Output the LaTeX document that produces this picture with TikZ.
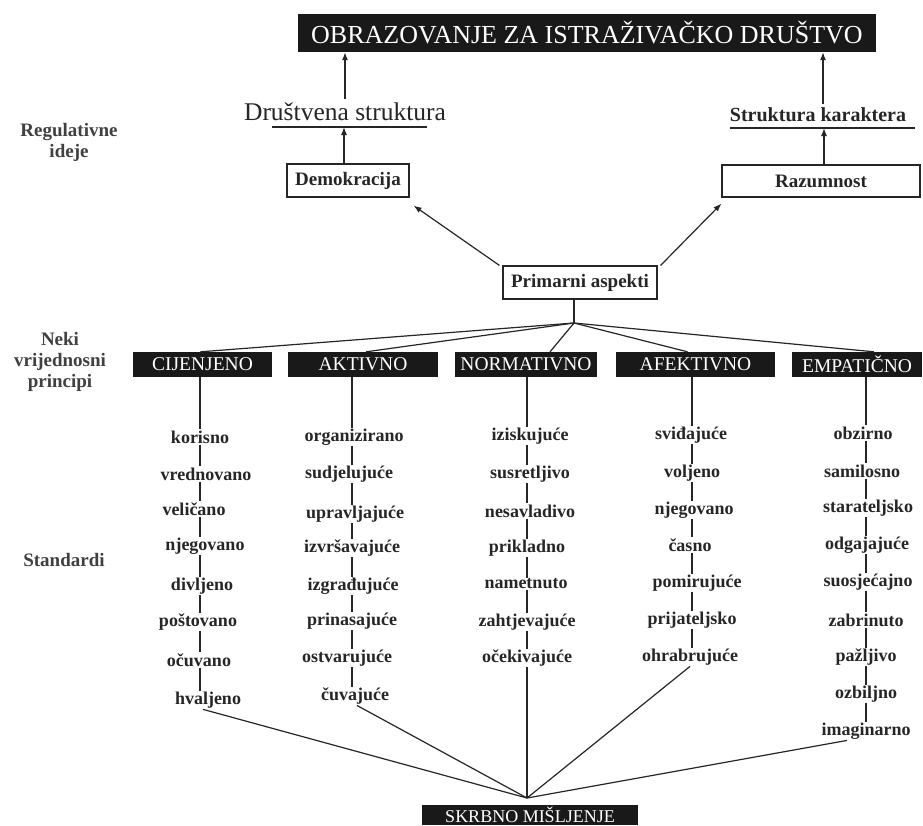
\documentclass[tikz,border=0pt]{standalone}
\usepackage{fontspec}
\setmainfont{Liberation Serif}
\usetikzlibrary{arrows.meta}
\begin{document}
\begin{tikzpicture}[x=1pt,y=-1pt,
  lw/.style={line width=1.2pt, draw=black!85},
  arr/.style={lw, -{Latex[length=8pt,width=6pt]}},
  blk/.style={fill=black!90, text=white, font=\fontsize{19.5}{20}\selectfont, inner sep=0pt, minimum height=25pt},
  wbox/.style={draw=black!85, line width=1.2pt, font=\fontsize{19}{20}\selectfont\bfseries, inner sep=0pt, minimum height=32pt, text=black!85},
  wd/.style={font=\fontsize{18}{19}\selectfont\bfseries, inner sep=1pt, text=black!85},
  lab/.style={font=\fontsize{19}{21}\selectfont\bfseries, align=center, text=black!75},
]
\useasboundingbox (0,0) rectangle (923,825);
\fill[white] (0,0) rectangle (923,825);

% top
\node[blk, font=\fontsize{26}{28}\selectfont, minimum width=578pt, minimum height=38pt] (top) at (587,33) {OBRAZOVANJE ZA ISTRAŽIVAČKO DRUŠTVO};
\node[inner sep=0pt, font=\fontsize{25.5}{27}\selectfont, text=black!85] (ds) at (345,112) {Društvena struktura};
\node[inner sep=0pt, font=\fontsize{20}{22}\selectfont\bfseries, text=black!85] (sk) at (818,115) {Struktura karaktera};
\coordinate (ul1a) at (272,127);
\coordinate (ul1b) at (427,127);
\coordinate (ul2a) at (730,128);
\coordinate (ul2b) at (915,128);
\draw[lw] (ul1a) -- (ul1b);
\draw[lw] (ul2a) -- (ul2b);
\draw[arr] ([yshift=4pt]ds.north) -- (ds.north |- top.south);
\draw[arr] ([xshift=5pt,yshift=4pt]sk.north) -- ([xshift=5pt]sk.north |- top.south);

\node[wbox, minimum width=122pt, minimum height=33pt] (dem) at (348,180.5) {Demokracija};
\node[wbox, minimum width=198pt] (raz) at (821,181) {Razumnost};
\draw[arr] ([xshift=-4pt]dem.north) -- ([xshift=-4pt]dem.north |- ul1a);
\draw[arr] ([xshift=3pt]raz.north) -- ([xshift=3pt]raz.north |- ul2a);

\node[wbox, minimum width=154pt, minimum height=33pt] (prim) at (580,282.5) {Primarni aspekti};
\draw[arr] ([xshift=-3pt]prim.north west) -- ([xshift=4pt,yshift=-8pt]dem.south east);
\draw[arr] ([xshift=3pt]prim.north east) -- ([yshift=-6pt]raz.south west);

% left labels
\node[lab] (reg) at (69,142) {Regulativne\\ideje};
\node[lab] (neki) at (60,362) {Neki\\vrijednosni\\principi};
\node[lab] (std) at (64,560) {Standardi};

% value principle boxes
\node[blk, minimum width=139pt] (p1) at (202.5,364.5) {CIJENJENO};
\node[blk, minimum width=150pt] (p2) at (363,364.5) {AKTIVNO};
\node[blk, minimum width=142pt] (p3) at (526,364.5) {NORMATIVNO};
\node[blk, minimum width=159pt] (p4) at (695.5,364.5) {AFEKTIVNO};
\node[blk, minimum width=130pt] (p5) at (857,364.5) {EMPATIČNO};

\coordinate (J1) at (574,323);
\draw[lw] (prim.south -| J1) -- (J1);
\draw[lw] (J1) -- ([xshift=-2pt]p1.north);
\draw[lw] (J1) -- ([xshift=3pt]p2.north);
\draw[lw] (J1) -- ([xshift=24pt]p3.north);
\draw[lw] (J1) -- ([xshift=-8pt]p4.north);
\draw[lw] (J1) -- ([xshift=17pt]p5.north);

\coordinate (L1) at (200,377);
\coordinate (L2) at (352,377);
\coordinate (L3) at (527,377);
\coordinate (L4) at (692,377);
\coordinate (L5) at (866,377);

% column 1
\node[wd] (a1) at (200,437) {korisno};
\node[wd] (a2) at (206,474) {vrednovano};
\node[wd] (a3) at (194,509) {veličano};
\node[wd] (a4) at (205,546) {njegovano};
\node[wd] (a5) at (202,586) {divljeno};
\node[wd] (a6) at (198,622) {poštovano};
\node[wd] (a7) at (199,660) {očuvano};
\node[wd] (a8) at (208,700) {hvaljeno};
% column 2
\node[wd] (b1) at (354,437) {organizirano};
\node[wd] (b2) at (349,474) {sudjelujuće};
\node[wd] (b3) at (355,514) {upravljajuće};
\node[wd] (b4) at (352,548) {izvršavajuće};
\node[wd] (b5) at (353,586) {izgrađujuće};
\node[wd] (b6) at (352,621) {prinasajuće};
\node[wd] (b7) at (347,658) {ostvarujuće};
\node[wd] (b8) at (355,696) {čuvajuće};
% column 3
\node[wd] (c1) at (530,436) {iziskujuće};
\node[wd] (c2) at (530,474) {susretljivo};
\node[wd] (c3) at (530,511) {nesavladivo};
\node[wd] (c4) at (527,548) {prikladno};
\node[wd] (c5) at (526,584) {nametnuto};
\node[wd] (c6) at (527,622) {zahtjevajuće};
\node[wd] (c7) at (527,658) {očekivajuće};
% column 4
\node[wd] (d1) at (691,435) {sviđajuće};
\node[wd] (d2) at (692,473) {voljeno};
\node[wd] (d3) at (694,510) {njegovano};
\node[wd] (d4) at (690,545) {časno};
\node[wd] (d5) at (697,583) {pomirujuće};
\node[wd] (d6) at (692,620) {prijateljsko};
\node[wd] (d7) at (690,657) {ohrabrujuće};
% column 5
\node[wd] (e1) at (863,433) {obzirno};
\node[wd] (e2) at (862,471) {samilosno};
\node[wd] (e3) at (868,508) {starateljsko};
\node[wd] (e4) at (867,545) {odgajajuće};
\node[wd] (e5) at (868,582) {suosjećajno};
\node[wd] (e6) at (866,620) {zabrinuto};
\node[wd] (e7) at (866,657) {pažljivo};
\node[wd] (e8) at (866,694) {ozbiljno};
\node[wd] (e9) at (866,731) {imaginarno};

% column lines
\draw[lw] (L1) -- (a1.north -| L1);
\foreach \i [evaluate=\i as \j using int(\i+1)] in {1,...,7}
  \draw[lw] (a\i.south -| L1) -- (a\j.north -| L1);
\draw[lw] (L2) -- (b1.north -| L2);
\foreach \i [evaluate=\i as \j using int(\i+1)] in {1,...,7}
  \draw[lw] (b\i.south -| L2) -- (b\j.north -| L2);
\draw[lw] (L3) -- (c1.north -| L3);
\foreach \i [evaluate=\i as \j using int(\i+1)] in {1,...,6}
  \draw[lw] (c\i.south -| L3) -- (c\j.north -| L3);
\draw[lw] (L4) -- (d1.north -| L4);
\foreach \i [evaluate=\i as \j using int(\i+1)] in {1,...,6}
  \draw[lw] (d\i.south -| L4) -- (d\j.north -| L4);
\draw[lw] (L5) -- (e1.north -| L5);
\foreach \i [evaluate=\i as \j using int(\i+1)] in {1,...,8}
  \draw[lw] (e\i.south -| L5) -- (e\j.north -| L5);

% bottom
\node[blk, font=\fontsize{18}{20}\selectfont, minimum width=216pt, minimum height=20pt] (skr) at (530,815) {SKRBNO MIŠLJENJE};
\coordinate (J2) at (527,798);
\draw[lw] ([xshift=-5pt]a8.south) -- (J2);
\draw[lw] ([xshift=2pt]b8.south) -- (J2);
\draw[lw] (c7.south -| J2) -- (J2);
\draw[lw] (d7.south) -- (J2);
\draw[lw] ([xshift=-19pt]e9.south) -- (J2);
\end{tikzpicture}
\end{document}
